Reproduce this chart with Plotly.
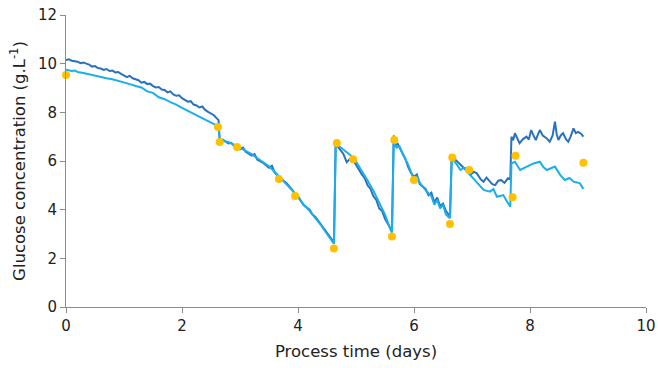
import plotly.graph_objects as go

# Dark blue series
dark_t = [0.00,0.05,0.10,0.15,0.20,0.25,0.30,0.35,0.40,0.45,0.50,0.55,0.60,0.65,0.70,0.75,0.80,0.85,0.90,0.95,
          1.00,1.05,1.10,1.15,1.20,1.25,1.30,1.35,1.40,1.45,1.50,1.55,1.60,1.65,1.70,1.75,1.80,1.85,1.90,1.95,
          2.00,2.05,2.10,2.15,2.20,2.25,2.30,2.35,2.40,2.45,2.50,2.55,2.60,2.63,
          2.65,2.70,2.75,2.80,2.85,2.90,3.00,3.05,3.10,3.20,3.25,3.30,3.40,3.50,3.55,3.60,3.70,3.80,3.90,3.95,
          4.00,4.10,4.20,4.25,4.30,4.35,4.40,4.50,4.55,4.60,4.62,
          4.65,4.70,4.78,4.84,4.90,4.95,5.00,5.10,5.15,5.20,5.25,5.30,5.35,5.40,5.45,5.50,5.55,5.60,5.62,
          5.65,5.68,5.72,5.78,5.85,5.90,5.95,6.00,6.05,6.10,6.20,6.25,6.30,6.35,6.40,6.45,6.50,6.55,6.60,6.62,
          6.65,6.68,6.72,6.78,6.85,6.90,6.97,7.03,7.08,7.15,7.20,7.25,7.30,7.35,7.40,7.45,7.50,7.56,7.62,7.66,
          7.68,7.71,7.74,7.78,7.82,7.88,7.94,7.98,8.02,8.06,8.10,8.14,8.17,8.22,8.28,8.34,8.39,8.43,8.46,8.49,
          8.53,8.57,8.62,8.66,8.70,8.75,8.79,8.83,8.88,8.92]
dark_v = [10.15,10.18,10.12,10.10,10.08,10.02,10.05,10.00,9.96,9.88,9.90,9.82,9.80,9.74,9.78,9.70,9.72,9.64,9.66,9.58,
          9.52,9.45,9.50,9.40,9.36,9.32,9.22,9.25,9.16,9.18,9.08,9.02,9.04,8.94,8.92,8.82,8.86,8.74,8.68,8.70,
          8.58,8.52,8.44,8.46,8.32,8.28,8.20,8.24,8.10,8.02,7.96,7.88,7.75,7.68,
          6.85,6.88,6.80,6.72,6.75,6.62,6.48,6.55,6.38,6.22,6.28,6.05,5.92,5.72,5.80,5.52,5.28,5.10,4.82,4.62,
          4.55,4.18,4.00,3.80,3.70,3.55,3.38,3.05,2.90,2.72,2.62,
          6.72,6.55,6.30,5.95,6.10,6.02,5.85,5.45,5.30,5.00,4.85,4.55,4.40,4.05,3.95,3.62,3.40,3.20,3.12,
          7.05,6.65,6.70,6.45,6.10,5.75,5.50,5.35,5.45,5.05,4.85,4.60,4.70,4.30,4.50,4.15,4.25,3.95,3.80,3.72,
          6.15,6.11,6.04,5.90,5.75,5.62,5.43,5.55,5.50,5.25,5.15,5.32,5.18,5.05,5.01,5.18,5.22,5.10,5.29,5.25,
          7.00,6.85,7.14,6.95,6.73,6.90,7.00,6.88,7.27,7.05,6.86,7.10,7.27,7.05,6.95,6.79,7.05,7.62,7.10,6.86,
          7.05,7.14,6.90,6.79,7.00,7.34,7.15,7.20,7.12,7.00]

# Light blue series
light_t = [0.00,0.05,0.10,0.15,0.20,0.30,0.40,0.50,0.60,0.70,0.80,0.90,1.00,1.10,1.20,1.30,1.40,1.50,1.60,1.70,
           1.80,1.90,2.00,2.10,2.20,2.30,2.40,2.50,2.60,2.63,
           2.65,2.70,2.80,2.90,3.00,3.10,3.20,3.30,3.40,3.50,3.60,3.70,3.80,3.90,4.00,4.10,4.20,4.30,4.40,4.50,4.60,4.62,
           4.65,4.70,4.80,4.90,5.00,5.10,5.20,5.30,5.40,5.50,5.60,5.62,
           5.65,5.70,5.75,5.80,5.90,5.95,6.00,6.05,6.10,6.20,6.30,6.35,6.40,6.45,6.50,6.55,6.60,6.62,
           6.65,6.68,6.74,6.80,6.86,6.91,6.96,7.02,7.10,7.20,7.31,7.37,7.43,7.54,7.60,7.66,
           7.68,7.74,7.83,7.94,8.06,8.17,8.23,8.29,8.36,8.43,8.52,8.60,8.68,8.75,8.81,8.86,8.92]
light_v = [9.75,9.72,9.70,9.72,9.66,9.62,9.56,9.50,9.46,9.40,9.36,9.30,9.22,9.16,9.08,9.02,8.86,8.80,8.62,8.54,
           8.42,8.32,8.18,8.06,7.92,7.82,7.70,7.58,7.45,7.42,
           6.85,6.82,6.78,6.66,6.55,6.42,6.28,6.12,5.95,5.78,5.55,5.30,5.05,4.80,4.50,4.20,3.95,3.65,3.35,3.00,2.65,2.60,
           6.72,6.62,6.45,6.25,5.98,5.60,5.20,4.78,4.30,3.80,3.15,3.05,
           6.75,6.55,6.60,6.30,5.85,5.55,5.22,5.35,5.10,4.80,4.55,4.20,4.40,4.05,4.20,3.80,3.70,3.65,
           6.08,6.04,5.85,5.63,5.72,5.70,5.45,5.29,5.05,4.81,4.74,4.85,4.53,4.60,4.35,4.12,
           5.90,5.97,5.63,5.77,5.90,5.97,5.75,5.63,5.70,5.77,5.43,5.22,5.30,5.15,5.12,5.08,4.85]

# Yellow sample points
pts_t = [0.00,2.62,2.65,2.95,3.67,3.95,4.62,4.67,4.95,5.62,5.66,6.00,6.62,6.66,6.95,7.70,7.75,8.92]
pts_v = [9.53,7.40,6.78,6.58,5.26,4.56,2.40,6.74,6.07,2.90,6.86,5.22,3.41,6.14,5.63,4.51,6.22,5.93]

fig = go.Figure()
fig.add_trace(go.Scatter(x=dark_t, y=dark_v, mode="lines",
                         line=dict(color="#2a72bc", width=2), showlegend=False, cliponaxis=False))
fig.add_trace(go.Scatter(x=light_t, y=light_v, mode="lines",
                         line=dict(color="#1aaeec", width=2), showlegend=False, cliponaxis=False))
fig.add_trace(go.Scatter(x=pts_t, y=pts_v, mode="markers",
                         marker=dict(color="#ffc000", size=8), showlegend=False, cliponaxis=False))

tick_font = dict(family="DejaVu Sans", size=15, color="#222222")
title_font = dict(family="DejaVu Sans", size=16.5, color="#222222")
fig.update_layout(
    width=658, height=368,
    margin=dict(l=66, r=12, t=15, b=61, autoexpand=False),
    paper_bgcolor="white", plot_bgcolor="white",
    font=dict(family="DejaVu Sans", size=15, color="#222222"),
    xaxis=dict(range=[0, 10], tickvals=[0, 2, 4, 6, 8, 10], showgrid=False, zeroline=False,
               showline=True, linecolor="#8c8c8c", linewidth=1, ticks="outside", ticklen=5,
               tickcolor="#8c8c8c", tickfont=tick_font, automargin=False,
               title=dict(text="Process time (days)", font=title_font, standoff=11)),
    yaxis=dict(range=[0, 12], tickvals=[0, 2, 4, 6, 8, 10, 12], showgrid=False, zeroline=False,
               showline=True, linecolor="#8c8c8c", linewidth=1, ticks="outside", ticklen=5,
               tickcolor="#8c8c8c", tickfont=tick_font, automargin=False,
               title=dict(text="Glucose concentration (g.L<sup>-1</sup>)", font=title_font, standoff=8)),
)
fig.write_html("out.html", config={"displayModeBar": False},
               post_script="document.body.style.margin='0';document.body.style.padding='0';")
